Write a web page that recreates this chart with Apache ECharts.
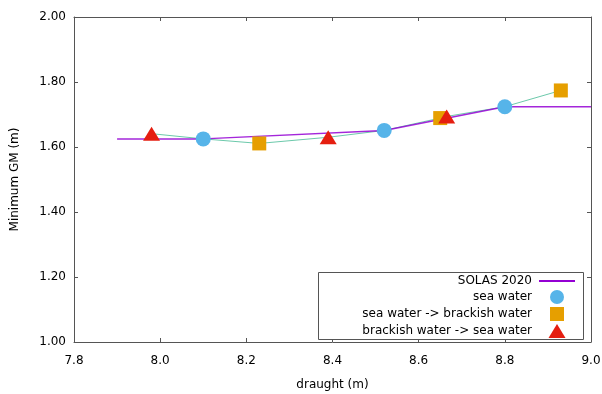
<!DOCTYPE html>
<html>
<head>
<meta charset="utf-8">
<script src="https://cdn.jsdelivr.net/npm/echarts@6/dist/echarts.min.js"></script>
<style>
  html, body { margin: 0; padding: 0; background: #fff; }
  #chart { width: 602px; height: 394px; }
</style>
</head>
<body>
<div id="chart"></div>
<script>
// SOLAS 2020 requirement curve
const solasX = [7.9, 8.1, 8.52, 8.8, 9.0];
const solasY = [1.625, 1.625, 1.651, 1.724, 1.724];

// measured points
const seaX = [8.10, 8.52, 8.80];
const seaY = [1.625, 1.651, 1.724];
const seaToBrackishX = [8.23, 8.65, 8.93];
const seaToBrackishY = [1.611, 1.689, 1.774];
const brackishToSeaX = [7.98, 8.39, 8.665];
const brackishToSeaY = [1.641, 1.630, 1.694];

const xTicks = { min: 7.8, max: 9.0, interval: 0.2 };
const yTicks = { min: 1.0, max: 2.0, interval: 0.2 };

const names = ['SOLAS 2020', 'sea water', 'sea water -> brackish water', 'brackish water -> sea water'];

const pairs = (xs, ys) => xs.map((x, i) => [x, ys[i]]);
// thin line joining every measured point in draught order
const allPoints = [].concat(
  pairs(seaX, seaY),
  pairs(seaToBrackishX, seaToBrackishY),
  pairs(brackishToSeaX, brackishToSeaY)
).sort((a, b) => a[0] - b[0]);

const font = 'DejaVu Sans';
const axisColor = '#555';

const chart = echarts.init(document.getElementById('chart'));

// one legend per row so the text is right aligned and the keys line up
const rowCenters = [282, 297, 314, 331];
const keySizes = [[36, 2], [14, 14], [14, 14], [17, 14]];
const keyIcons = ['rect', 'circle', 'rect', 'triangle'];
const keyCenterX = 557;
const legends = names.map((n, i) => {
  const [w, h] = keySizes[i];
  const textEnd = 532;
  const iconLeft = keyCenterX - w / 2;
  return {
    data: [{ name: n, icon: keyIcons[i] }],
    right: 602 - (keyCenterX + w / 2),
    top: rowCenters[i] - 7,
    padding: 0,
    align: 'right',
    itemWidth: w,
    itemHeight: h,
    selectedMode: false,
    textStyle: {
      fontFamily: font, fontSize: 12, color: '#000',
      padding: [0, iconLeft - textEnd - 5, 0, 0]
    }
  };
});

const option = {
  backgroundColor: '#fff',
  animation: false,
  textStyle: { fontFamily: font },
  grid: { left: 74, right: 11, top: 17, bottom: 52, outerBoundsMode: 'none', containLabel: false },
  legend: legends,
  graphic: [{
    type: 'rect',
    shape: { x: 318.5, y: 272.5, width: 265, height: 67 },
    style: { fill: '#fff', stroke: axisColor, lineWidth: 1 },
    z: 3
  }],
  xAxis: [
    {
      type: 'value', min: xTicks.min, max: xTicks.max, interval: xTicks.interval,
      name: 'draught (m)', nameLocation: 'middle', nameGap: 37,
      nameTextStyle: { fontFamily: font, fontSize: 12, color: '#000' },
      axisLine: { lineStyle: { color: axisColor } },
      axisTick: { inside: true, length: 4, lineStyle: { color: axisColor } },
      axisLabel: { fontFamily: font, fontSize: 12, color: '#000', margin: 13, formatter: v => v.toFixed(1) },
      splitLine: { show: false }
    },
    {
      type: 'value', position: 'top', min: xTicks.min, max: xTicks.max, interval: xTicks.interval,
      axisLine: { lineStyle: { color: axisColor } },
      axisTick: { inside: true, length: 4, lineStyle: { color: axisColor } },
      axisLabel: { show: false },
      splitLine: { show: false }
    }
  ],
  yAxis: [
    {
      type: 'value', min: yTicks.min, max: yTicks.max, interval: yTicks.interval,
      name: 'Minimum GM (m)', nameLocation: 'middle', nameGap: 53,
      nameTextStyle: { fontFamily: font, fontSize: 12, color: '#000' },
      axisLine: { show: true, lineStyle: { color: axisColor } },
      axisTick: { show: true, inside: true, length: 4, lineStyle: { color: axisColor } },
      axisLabel: { fontFamily: font, fontSize: 12, color: '#000', margin: 8, formatter: v => v.toFixed(2) },
      splitLine: { show: false }
    },
    {
      type: 'value', position: 'right', min: yTicks.min, max: yTicks.max, interval: yTicks.interval,
      axisLine: { show: true, lineStyle: { color: axisColor } },
      axisTick: { show: true, inside: true, length: 4, lineStyle: { color: axisColor } },
      axisLabel: { show: false },
      splitLine: { show: false }
    }
  ],
  series: [
    {
      name: 'measured',
      type: 'line',
      data: allPoints,
      symbol: 'none',
      lineStyle: { color: '#6cc9ab', width: 1 },
      z: 1
    },
    {
      name: names[0],
      type: 'line',
      data: pairs(solasX, solasY),
      symbol: 'none',
      itemStyle: { color: '#9400d3' },
      lineStyle: { color: '#9400d3', width: 1.5, opacity: 0.85 },
      z: 2
    },
    {
      name: names[1],
      type: 'scatter',
      data: pairs(seaX, seaY),
      symbol: 'circle',
      symbolSize: 15,
      itemStyle: { color: '#56b4e9', opacity: 1 },
      z: 4
    },
    {
      name: names[2],
      type: 'scatter',
      data: pairs(seaToBrackishX, seaToBrackishY),
      symbol: 'rect',
      symbolSize: 14,
      itemStyle: { color: '#e69f00', opacity: 1 },
      z: 5
    },
    {
      name: names[3],
      type: 'scatter',
      data: pairs(brackishToSeaX, brackishToSeaY),
      symbol: 'triangle',
      symbolSize: [17, 14],
      itemStyle: { color: '#e51e10', opacity: 1 },
      z: 6
    }
  ]
};

chart.setOption(option);
</script>
</body>
</html>
